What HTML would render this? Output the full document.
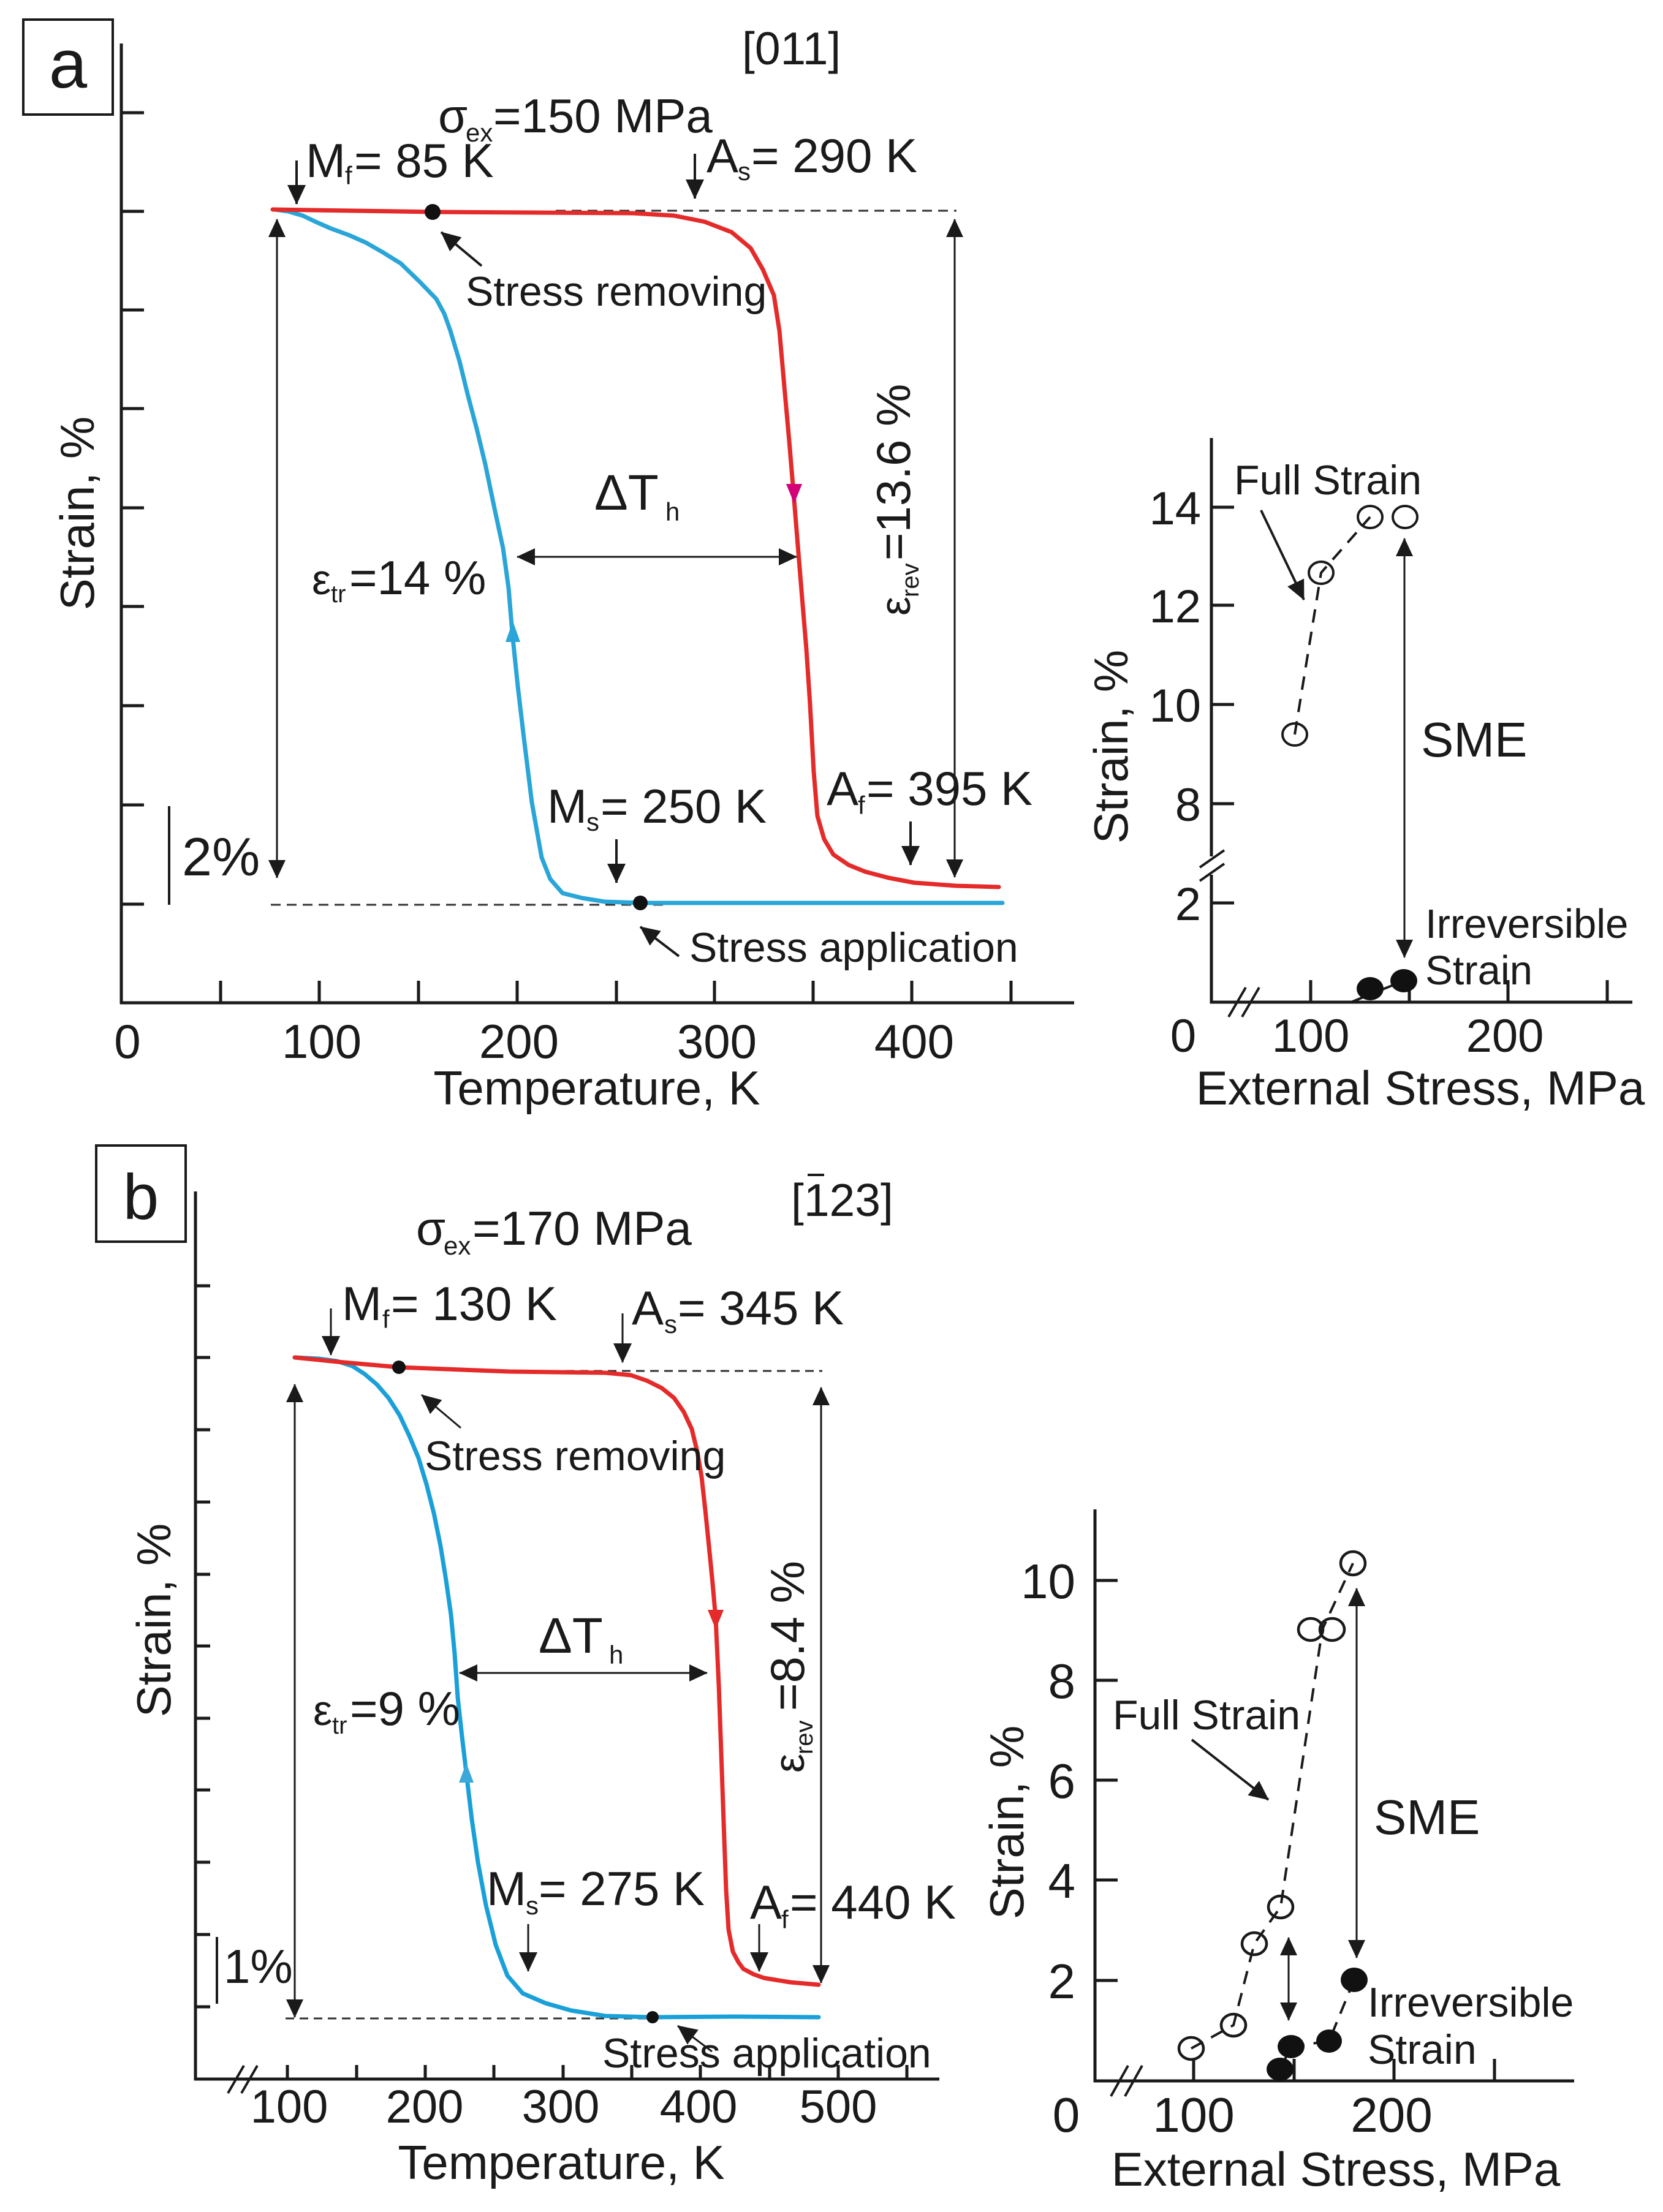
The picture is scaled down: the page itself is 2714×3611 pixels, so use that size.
<!DOCTYPE html>
<html><head><meta charset="utf-8"><style>
html,body{margin:0;padding:0;background:#fff;}
svg{display:block;}
text{font-family:"Liberation Sans",Arial,sans-serif;fill:#1a1a1a;}
</style></head><body>
<svg xmlns="http://www.w3.org/2000/svg" width="2714" height="3611" viewBox="0 0 2714 3611">
<defs>
<marker id="ah" viewBox="0 0 30 28" refX="29" refY="14" markerWidth="30" markerHeight="28" orient="auto-start-reverse" markerUnits="userSpaceOnUse"><path d="M0,0 L30,14 L0,28 z" fill="#1a1a1a"/></marker>
<marker id="ahs" viewBox="0 0 32 30" refX="31" refY="15" markerWidth="32" markerHeight="30" orient="auto-start-reverse" markerUnits="userSpaceOnUse"><path d="M0,0 L32,15 L0,30 z" fill="#1a1a1a"/></marker>
</defs>
<rect width="2714" height="3611" fill="#fff"/>

<!-- ================= PANEL A ================= -->
<rect x="38" y="32" width="146" height="155" fill="none" stroke="#1a1a1a" stroke-width="4"/>
<text x="111" y="143" font-size="112" text-anchor="middle">a</text>

<g stroke="#1a1a1a" stroke-width="5" fill="none">
<line x1="198" y1="71" x2="198" y2="1639"/>
<line x1="196" y1="1637" x2="1753" y2="1637"/>
<path d="M198,184H235M198,345H235M198,506H235M198,667H235M198,829H235M198,990H235M198,1152H235M198,1314H235M198,1476H235"/>
<path d="M360,1601V1637M521,1601V1637M683,1601V1637M844,1601V1637M1006,1601V1637M1166,1601V1637M1327,1601V1637M1488,1601V1637M1650,1601V1637"/>
</g>
<g font-size="78" text-anchor="middle">
<text x="208" y="1727">0</text><text x="525" y="1727">100</text><text x="847" y="1727">200</text><text x="1170" y="1727">300</text><text x="1492" y="1727">400</text>
</g>
<text x="974" y="1803" font-size="78" text-anchor="middle">Temperature, K</text>
<text transform="translate(153,838) rotate(-90)" font-size="78" text-anchor="middle">Strain, %</text>

<line x1="276" y1="1316" x2="276" y2="1477" stroke="#1a1a1a" stroke-width="4"/>
<text x="297" y="1429" font-size="88">2%</text>

<g stroke="#333" stroke-width="3" stroke-dasharray="16,10" fill="none">
<line x1="907" y1="344" x2="1561" y2="344"/>
<line x1="442" y1="1477" x2="1091" y2="1477"/>
</g>

<polyline fill="none" stroke="#29a5d8" stroke-width="7" stroke-linejoin="round" stroke-linecap="round" points="448,342 470,345 494,352 515,362 540,373 570,384 597,396 625,412 654,430 685,460 712,488 725,512 735,540 750,590 763,643 778,700 792,758 807,830 821,895 830,960 836,1033 845,1120 855,1205 868,1310 884,1400 898,1435 918,1458 950,1466 987,1472 1045,1474 1636,1474"/>
<polyline fill="none" stroke="#e52a2a" stroke-width="7" stroke-linejoin="round" stroke-linecap="round" points="445,342 706,346 1033,348 1100,352 1150,362 1194,379 1225,405 1245,440 1263,482 1272,540 1280,631 1288,720 1295,804 1302,890 1309,976 1316,1060 1322,1150 1328,1260 1334,1332 1345,1370 1360,1395 1385,1412 1412,1423 1450,1433 1492,1441 1560,1446 1630,1448"/>
<path d="M1283,790 L1309,790 L1296,822 z" fill="#d4007a"/>
<path d="M825,1048 L849,1048 L837,1014 z" fill="#29a5d8"/>
<circle cx="706" cy="346" r="13" fill="#111"/>
<circle cx="1045" cy="1474" r="12" fill="#111"/>

<g stroke="#1a1a1a" stroke-width="3" fill="none">
<line x1="452" y1="358" x2="452" y2="1433" marker-start="url(#ah)" marker-end="url(#ah)"/>
<line x1="1558" y1="358" x2="1558" y2="1432" marker-start="url(#ah)" marker-end="url(#ah)"/>
<line x1="844" y1="909" x2="1300" y2="909" marker-start="url(#ah)" marker-end="url(#ah)"/>
</g>
<g stroke="#1a1a1a" stroke-width="4" fill="none">
<line x1="484" y1="262" x2="484" y2="333" marker-end="url(#ahs)"/>
<line x1="1134" y1="251" x2="1134" y2="324" marker-end="url(#ahs)"/>
<line x1="1006" y1="1370" x2="1006" y2="1441" marker-end="url(#ahs)"/>
<line x1="1486" y1="1341" x2="1486" y2="1412" marker-end="url(#ahs)"/>
<line x1="786" y1="434" x2="720" y2="379" marker-end="url(#ahs)"/>
<line x1="1108" y1="1561" x2="1045" y2="1513" marker-end="url(#ahs)"/>
</g>

<text x="1211" y="105" font-size="75">[011]</text>
<text x="715" y="216" font-size="78">σ</text><text x="760" y="231" font-size="42">ex</text><text x="805" y="216" font-size="78">=150 MPa</text>
<text x="499" y="289" font-size="78">M</text><text x="563" y="301" font-size="42">f</text><text x="578" y="289" font-size="78">= 85 K</text>
<text x="1153" y="281" font-size="78">A</text><text x="1204" y="294" font-size="42">s</text><text x="1226" y="281" font-size="78">= 290 K</text>
<text x="760" y="499" font-size="68">Stress removing</text>
<text x="970" y="832" font-size="82">ΔT</text><text x="1086" y="850" font-size="42">h</text>
<text x="509" y="970" font-size="70">ε</text><text x="540" y="983" font-size="40">tr</text><text x="570" y="970" font-size="78">=14 %</text>
<g transform="translate(1485,1005) rotate(-90)">
<text x="0" y="0" font-size="70">ε</text><text x="30" y="14" font-size="40">rev</text><text x="90" y="0" font-size="78">=13.6 %</text>
</g>
<text x="893" y="1343" font-size="78">M</text><text x="957" y="1356" font-size="42">s</text><text x="980" y="1343" font-size="78">= 250 K</text>
<text x="1349" y="1314" font-size="78">A</text><text x="1400" y="1329" font-size="42">f</text><text x="1414" y="1314" font-size="78">= 395 K</text>
<text x="1125" y="1570" font-size="68">Stress application</text>

<!-- right plot A -->
<g stroke="#1a1a1a" stroke-width="5" fill="none">
<line x1="1977" y1="715" x2="1977" y2="1638"/>
<line x1="1975" y1="1636" x2="2664" y2="1636"/>
<path d="M1977,828H2014M1977,988H2014M1977,1150H2014M1977,1312H2014M1977,1474H2014"/>
<path d="M2139,1600V1636M2300,1600V1636M2461,1600V1636M2623,1600V1636"/>
</g>
<g stroke="#fff" stroke-width="10"><line x1="1977" y1="1398" x2="1977" y2="1428"/></g>
<g stroke="#1a1a1a" stroke-width="4">
<line x1="1958" y1="1416" x2="1998" y2="1388"/><line x1="1958" y1="1438" x2="1998" y2="1410"/>
<line x1="2005" y1="1660" x2="2033" y2="1612"/><line x1="2027" y1="1660" x2="2055" y2="1612"/>
</g>
<g font-size="76" text-anchor="end">
<text x="1960" y="856">14</text><text x="1960" y="1016">12</text><text x="1960" y="1178">10</text><text x="1960" y="1340">8</text><text x="1960" y="1502">2</text>
</g>
<g font-size="76" text-anchor="middle">
<text x="1931" y="1717">0</text><text x="2139" y="1717">100</text><text x="2456" y="1717">200</text>
</g>
<text x="2318" y="1803" font-size="78" text-anchor="middle">External Stress, MPa</text>
<text transform="translate(1840,1219) rotate(-90)" font-size="78" text-anchor="middle">Strain, %</text>
<polyline fill="none" stroke="#1a1a1a" stroke-width="4" stroke-dasharray="22,15" points="2113,1199 2156,935 2236,844"/>
<g fill="none" stroke="#1a1a1a" stroke-width="4">
<ellipse cx="2113" cy="1199" rx="20" ry="18"/><ellipse cx="2156" cy="935" rx="20" ry="18"/><ellipse cx="2236" cy="844" rx="20" ry="18"/><ellipse cx="2293" cy="844" rx="20" ry="18"/>
</g>
<line x1="2205" y1="1636" x2="2291" y2="1601" stroke="#1a1a1a" stroke-width="4"/>
<ellipse cx="2236" cy="1614" rx="22" ry="19" fill="#111"/>
<ellipse cx="2291" cy="1601" rx="22" ry="19" fill="#111"/>
<line x1="2292" y1="879" x2="2292" y2="1563" stroke="#1a1a1a" stroke-width="3" marker-start="url(#ah)" marker-end="url(#ah)"/>
<line x1="2058" y1="833" x2="2128" y2="979" stroke="#1a1a1a" stroke-width="4" marker-end="url(#ahs)"/>
<text x="2319" y="1235" font-size="80">SME</text>
<text x="2014" y="807" font-size="68">Full Strain</text>
<text x="2326" y="1531" font-size="67">Irreversible</text>
<text x="2326" y="1607" font-size="67">Strain</text>

<!-- ================= PANEL B ================= -->
<rect x="157" y="1870" width="146" height="157" fill="none" stroke="#1a1a1a" stroke-width="4"/>
<text x="230" y="1990" font-size="105" text-anchor="middle">b</text>

<g stroke="#1a1a1a" stroke-width="5" fill="none">
<line x1="319" y1="1945" x2="319" y2="3396"/>
<line x1="317" y1="3394" x2="1533" y2="3394"/>
<path d="M319,2099H343M319,2216H343M319,2334H343M319,2452H343M319,2570H343M319,2687H343M319,2805H343M319,2922H343M319,3040H343M319,3158H343M319,3276H343"/>
<path d="M469,3371V3394M582,3371V3394M694,3371V3394M806,3371V3394M919,3371V3394M1031,3371V3394M1143,3371V3394M1256,3371V3394M1368,3371V3394M1480,3371V3394"/>
</g>
<g stroke="#1a1a1a" stroke-width="4">
<line x1="372" y1="3417" x2="398" y2="3372"/><line x1="394" y1="3417" x2="420" y2="3372"/>
</g>
<g font-size="76" text-anchor="middle">
<text x="472" y="3465">100</text><text x="693" y="3465">200</text><text x="915" y="3465">300</text><text x="1140" y="3465">400</text><text x="1368" y="3465">500</text>
</g>
<text x="916" y="3557" font-size="78" text-anchor="middle">Temperature, K</text>
<text transform="translate(278,2645) rotate(-90)" font-size="78" text-anchor="middle">Strain, %</text>
<line x1="354" y1="3162" x2="354" y2="3271" stroke="#1a1a1a" stroke-width="4"/>
<text x="365" y="3237" font-size="78">1%</text>

<g stroke="#333" stroke-width="3" stroke-dasharray="14,9" fill="none">
<line x1="831" y1="2238" x2="1342" y2="2238"/>
<line x1="466" y1="3295" x2="1065" y2="3295"/>
</g>

<polyline fill="none" stroke="#1aa0d8" stroke-width="7" stroke-linejoin="round" stroke-linecap="round" points="481,2216 520,2218 550,2222 575,2230 595,2243 615,2260 634,2282 652,2310 668,2344 683,2380 696,2423 708,2470 719,2524 728,2580 736,2636 742,2700 747,2771 754,2835 761,2894 770,2970 780,3040 793,3110 809,3175 828,3225 853,3254 890,3270 932,3282 988,3291 1065,3293 1200,3292 1336,3293"/>
<polyline fill="none" stroke="#e52a2a" stroke-width="7" stroke-linejoin="round" stroke-linecap="round" points="481,2216 550,2223 651,2232 831,2239 988,2241 1030,2245 1056,2254 1080,2266 1100,2282 1116,2305 1129,2333 1138,2370 1145,2411 1151,2465 1157,2524 1163,2585 1168,2642 1173,2750 1177,2861 1181,2975 1185,3085 1189,3150 1196,3186 1205,3203 1213,3214 1230,3223 1247,3229 1290,3236 1336,3240"/>
<path d="M1155,2628 L1181,2628 L1168,2660 z" fill="#e52a2a"/>
<path d="M749,2910 L773,2910 L761,2878 z" fill="#3aa8d8"/>
<circle cx="651" cy="2232" r="11" fill="#111"/>
<circle cx="1065" cy="3293" r="10" fill="#111"/>

<g stroke="#1a1a1a" stroke-width="3" fill="none">
<line x1="481" y1="2260" x2="481" y2="3293" marker-start="url(#ah)" marker-end="url(#ah)"/>
<line x1="1340" y1="2265" x2="1340" y2="3237" marker-start="url(#ah)" marker-end="url(#ah)"/>
<line x1="750" y1="2731" x2="1154" y2="2731" marker-start="url(#ah)" marker-end="url(#ah)"/>
</g>
<g stroke="#1a1a1a" stroke-width="3" fill="none">
<line x1="540" y1="2136" x2="540" y2="2212" marker-end="url(#ahs)"/>
<line x1="1016" y1="2144" x2="1016" y2="2224" marker-end="url(#ahs)"/>
<line x1="862" y1="3141" x2="862" y2="3218" marker-end="url(#ahs)"/>
<line x1="1239" y1="3141" x2="1239" y2="3218" marker-end="url(#ahs)"/>
<line x1="752" y1="2331" x2="688" y2="2277" marker-end="url(#ahs)"/>
<line x1="1162" y1="3349" x2="1106" y2="3307" marker-end="url(#ahs)"/>
</g>

<text x="1291" y="1985" font-size="75">[123]</text>
<line x1="1318" y1="1918" x2="1345" y2="1918" stroke="#1a1a1a" stroke-width="4"/>
<text x="679" y="2032" font-size="78">σ</text><text x="724" y="2048" font-size="42">ex</text><text x="771" y="2032" font-size="78">=170 MPa</text>
<text x="558" y="2155" font-size="78">M</text><text x="624" y="2168" font-size="42">f</text><text x="638" y="2155" font-size="78">= 130 K</text>
<text x="1031" y="2162" font-size="78">A</text><text x="1084" y="2176" font-size="42">s</text><text x="1106" y="2162" font-size="78">= 345 K</text>
<text x="693" y="2400" font-size="68">Stress removing</text>
<text x="879" y="2698" font-size="82">ΔT</text><text x="994" y="2716" font-size="42">h</text>
<text x="511" y="2816" font-size="70">ε</text><text x="542" y="2830" font-size="40">tr</text><text x="571" y="2816" font-size="78">=9 %</text>
<g transform="translate(1312,2894) rotate(-90)">
<text x="0" y="0" font-size="70">ε</text><text x="30" y="14" font-size="40">rev</text><text x="101" y="0" font-size="78">=8.4 %</text>
</g>
<text x="794" y="3110" font-size="78">M</text><text x="858" y="3125" font-size="42">s</text><text x="879" y="3110" font-size="78">= 275 K</text>
<text x="1224" y="3132" font-size="78">A</text><text x="1275" y="3148" font-size="42">f</text><text x="1289" y="3132" font-size="78">= 440 K</text>
<text x="983" y="3375" font-size="68">Stress application</text>

<!-- right plot B -->
<g stroke="#1a1a1a" stroke-width="5" fill="none">
<line x1="1787" y1="2464" x2="1787" y2="3399"/>
<line x1="1785" y1="3397" x2="2569" y2="3397"/>
<path d="M1787,2580H1824M1787,2743H1824M1787,2906H1824M1787,3069H1824M1787,3233H1824"/>
<path d="M1948,3361V3397M2112,3361V3397M2275,3361V3397M2439,3361V3397"/>
</g>
<g stroke="#1a1a1a" stroke-width="4">
<line x1="1813" y1="3422" x2="1841" y2="3372"/><line x1="1836" y1="3422" x2="1864" y2="3372"/>
</g>
<g font-size="80" text-anchor="end">
<text x="1755" y="2609">10</text><text x="1755" y="2772">8</text><text x="1755" y="2935">6</text><text x="1755" y="3098">4</text><text x="1755" y="3262">2</text>
</g>
<g font-size="80" text-anchor="middle">
<text x="1740" y="3480">0</text><text x="1948" y="3480">100</text><text x="2271" y="3480">200</text>
</g>
<text x="2180" y="3568" font-size="78" text-anchor="middle">External Stress, MPa</text>
<text transform="translate(1670,2975) rotate(-90)" font-size="78" text-anchor="middle">Strain, %</text>
<polyline fill="none" stroke="#1a1a1a" stroke-width="4" stroke-dasharray="22,15" points="1944,3344 2013,3306 2047,3173 2090,3113 2158,2660 2208,2552"/>
<g fill="none" stroke="#1a1a1a" stroke-width="4.5">
<ellipse cx="1944" cy="3344" rx="20" ry="18"/><ellipse cx="2013" cy="3306" rx="20" ry="18"/><ellipse cx="2047" cy="3173" rx="20" ry="18"/><ellipse cx="2090" cy="3113" rx="20" ry="18"/><ellipse cx="2139" cy="2660" rx="20" ry="18"/><ellipse cx="2174" cy="2660" rx="20" ry="18"/><ellipse cx="2208" cy="2552" rx="20" ry="19"/>
</g>
<line x1="1948" y1="3362" x2="1948" y2="3397" stroke="#1a1a1a" stroke-width="4"/>
<polyline fill="none" stroke="#1a1a1a" stroke-width="4" stroke-dasharray="22,15" points="2107,3341 2169,3332 2210,3232"/>
<line x1="2089" y1="3378" x2="2107" y2="3341" stroke="#1a1a1a" stroke-width="4"/>
<g fill="#111">
<ellipse cx="2089" cy="3378" rx="22" ry="19"/><ellipse cx="2107" cy="3341" rx="22" ry="19"/><ellipse cx="2169" cy="3332" rx="21" ry="19"/><ellipse cx="2210" cy="3232" rx="22" ry="20"/>
</g>
<g stroke="#1a1a1a" stroke-width="3" fill="none">
<line x1="2103" y1="3163" x2="2103" y2="3298" marker-start="url(#ah)" marker-end="url(#ah)"/>
<line x1="2214" y1="2593" x2="2214" y2="3196" marker-start="url(#ah)" marker-end="url(#ah)"/>
</g>
<line x1="1945" y1="2840" x2="2070" y2="2938" stroke="#1a1a1a" stroke-width="4" marker-end="url(#ahs)"/>
<text x="2242" y="2994" font-size="80">SME</text>
<text x="1816" y="2823" font-size="68">Full Strain</text>
<text x="2232" y="3292" font-size="68">Irreversible</text>
<text x="2232" y="3369" font-size="68">Strain</text>
</svg>
</body></html>
